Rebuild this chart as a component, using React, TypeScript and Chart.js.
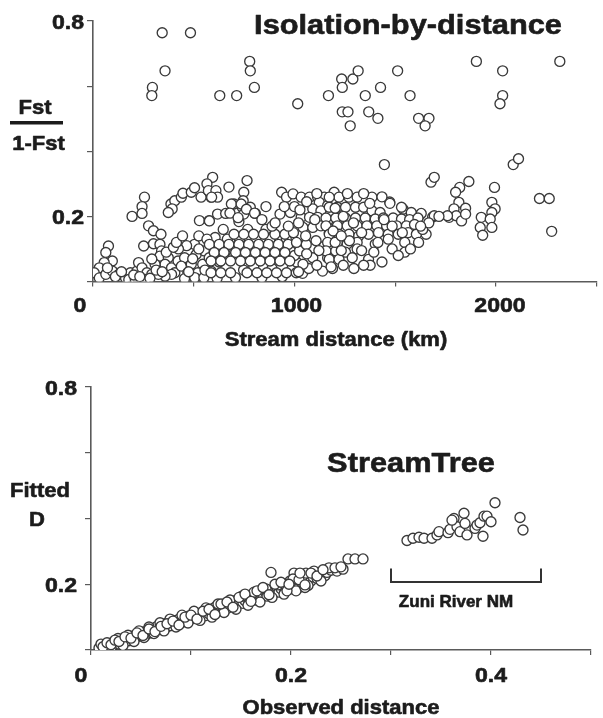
import React, { useEffect, useRef } from "react";
import { Chart, registerables } from "chart.js";

Chart.register(...registerables);

// ---------------- Data: Isolation-by-distance (top panel) ----------------
const ibdDistanceKm = [
  // sparse high values
  340, 479, 354, 292, 289, 623, 706, 770, 773, 793, 1006, 1157, 1222, 1225, 1277, 1303, 1338, 1413, 1497, 1558,
  1225, 1253, 1355, 1400, 1264, 1600, 1651, 1632, 1884, 2013, 2013, 2000, 2294, 1432, 2065, 2091,
  // mid / right scattered
  1661, 1677, 1847, 1802, 1782, 1973, 2194, 2242, 2254,
  1798, 1831, 1774, 1750, 1785, 1811, 1831, 1960, 1976, 1960, 1908, 1952, 1903, 1960, 1915,
  1669, 1603, 1524, 1458,
  // lower-left cloud
  253, 241, 192, 241, 383, 402, 434, 442, 483, 499, 389, 370, 580, 531, 523, 571, 273, 297, 334, 297,
  329, 337, 329, 249, 76, 63, 95, 55, 31, 6, 31, 63, 95, 71, 127, 160, 184, 176, 216, 224,
  241, 265, 208, 257, 289, 370, 354, 386, 402, 418, 450, 434, 483, 499, 507, 547, 539, 571, 580, 515,
  466, 386, 354, 321, 305, 289,
  450, 500, 545, 610, 700, 740, 790, 830, 880, 930, 980, 460, 420, 520, 640, 600, 660, 705, 780, 860,
  930, 975, 1000, 1030, 1060,
  110, 140, 200, 230, 280, 310, 340, 360, 395, 410, 440, 470, 490, 520, 550, 560, 600, 620, 650, 690,
  720, 760, 800, 850, 870, 900, 950, 990,
  // middle cloud
  588, 560, 567, 604, 612, 583, 668, 757, 741, 738, 693, 733, 773, 798, 741, 612, 652, 572, 717,
  927, 951, 983, 1023, 1064, 1104, 1137, 1112, 1153, 1080, 1120, 919, 970, 1023, 1064, 1104, 1032, 1080, 1120, 1153, 1161,
  693, 741, 789, 838, 894, 943,
  572, 620, 668, 717, 765, 814, 862, 911, 959, 1007,
  596, 644, 701, 749, 798, 846, 894, 943,
  580, 628, 676, 725, 773, 822, 870, 919, 967,
  580, 628, 676, 757, 806, 854, 902, 951, 999,
  1015, 1048, 1096, 1137, 1153, 1128, 1080, 1032,
  990, 1010, 1045, 1090, 1000, 985, 960, 940,
  680, 728, 673, 713, 754, 794, 830, 880, 850, 1017, 895,
  // right cloud
  1185, 1209, 1161, 1258, 1298, 1371, 1459, 1516, 1564, 1613, 1677, 1742,
  1161, 1201, 1241, 1290, 1330, 1371, 1411,
  1145, 1193, 1241, 1290, 1338, 1387, 1427, 1475, 1516, 1556, 1597,
  1145, 1201, 1249, 1298, 1346, 1395, 1443, 1492, 1540, 1580, 1637,
  1161, 1209, 1258, 1306, 1354, 1403, 1451, 1500, 1548, 1589,
  1153, 1201, 1249, 1298, 1387, 1451, 1532,
  1145, 1193, 1241, 1298, 1532,
  1161, 1209, 1274, 1354,
  1177, 1282, 1362,
  1010, 1050, 1100, 1110, 1170, 1190, 1220, 1230, 1260, 1320, 1330, 1380, 1400, 1420, 1470, 1500, 1560, 1600, 1620, 1650,
  1700, 1470, 1430, 1610, 1520, 1360, 1420, 1330, 1250, 1100, 1050, 1190, 1230, 1280, 1320, 1180, 1220,
];

const ibdFst = [
  0.764, 0.764, 0.647, 0.596, 0.571, 0.571, 0.571, 0.676, 0.647, 0.596, 0.546, 0.571, 0.622, 0.596, 0.622, 0.647, 0.571, 0.596, 0.647, 0.571,
  0.521, 0.521, 0.521, 0.501, 0.478, 0.501, 0.501, 0.478, 0.676, 0.647, 0.571, 0.546, 0.676, 0.359, 0.359, 0.377,
  0.305, 0.320, 0.307, 0.289, 0.274, 0.289, 0.255, 0.255, 0.154,
  0.243, 0.225, 0.223, 0.197, 0.202, 0.186, 0.207, 0.243, 0.223, 0.212, 0.197, 0.192, 0.166, 0.166, 0.142,
  0.198, 0.202, 0.222, 0.244,
  0.259, 0.230, 0.200, 0.209, 0.238, 0.248, 0.259, 0.271, 0.274, 0.288, 0.223, 0.212, 0.259, 0.259, 0.187, 0.187, 0.171, 0.156, 0.145, 0.116,
  0.114, 0.094, 0.078, 0.109, 0.109, 0.089, 0.063, 0.058, 0.042, 0.027, 0.011, 0.022, 0.032, 0.042, 0.022, 0.011, 0.027, 0.006, 0.032, 0.058,
  0.042, 0.027, 0.006, 0.006, 0.022, 0.073, 0.053, 0.042, 0.027, 0.063, 0.073, 0.047, 0.053, 0.114, 0.083, 0.094, 0.053, 0.073, 0.032, 0.027,
  0.027, 0.022, 0.016, 0.022, 0.053, 0.069,
  0.009, 0.012, 0.012, 0.010, 0.012, 0.035, 0.045, 0.012, 0.040, 0.015, 0.045, 0.110, 0.100, 0.140, 0.160, 0.135, 0.130, 0.100, 0.075, 0.100,
  0.075, 0.100, 0.060, 0.025, 0.040,
  0.015, 0.030, 0.020, 0.015, 0.010, 0.035, 0.030, 0.090, 0.105, 0.120, 0.140, 0.030, 0.070, 0.100, 0.035, 0.130, 0.090, 0.060, 0.100, 0.075,
  0.130, 0.160, 0.130, 0.160, 0.130, 0.100, 0.130, 0.080,
  0.320, 0.300, 0.279, 0.279, 0.259, 0.259, 0.290, 0.310, 0.274, 0.248, 0.238, 0.228, 0.228, 0.209, 0.207, 0.207, 0.209, 0.186, 0.184,
  0.274, 0.259, 0.269, 0.259, 0.259, 0.259, 0.259, 0.243, 0.233, 0.223, 0.217, 0.207, 0.212, 0.197, 0.197, 0.197, 0.166, 0.166, 0.171, 0.186, 0.150,
  0.145, 0.145, 0.145, 0.145, 0.145, 0.145,
  0.114, 0.114, 0.114, 0.114, 0.114, 0.114, 0.114, 0.114, 0.114, 0.114,
  0.089, 0.089, 0.089, 0.089, 0.089, 0.089, 0.089, 0.089,
  0.063, 0.063, 0.063, 0.063, 0.063, 0.063, 0.063, 0.063, 0.063,
  0.027, 0.027, 0.027, 0.027, 0.027, 0.027, 0.027, 0.027, 0.027,
  0.094, 0.114, 0.125, 0.109, 0.073, 0.032, 0.073, 0.053,
  0.230, 0.180, 0.140, 0.190, 0.120, 0.150, 0.170, 0.230,
  0.238, 0.238, 0.210, 0.196, 0.222, 0.210, 0.190, 0.170, 0.230, 0.220, 0.180,
  0.274, 0.259, 0.259, 0.259, 0.259, 0.259, 0.240, 0.228, 0.212, 0.209, 0.202, 0.202,
  0.228, 0.228, 0.228, 0.228, 0.228, 0.217, 0.212,
  0.195, 0.195, 0.195, 0.195, 0.195, 0.192, 0.195, 0.195, 0.192, 0.190, 0.195,
  0.171, 0.171, 0.171, 0.171, 0.171, 0.171, 0.171, 0.171, 0.171, 0.175, 0.145,
  0.145, 0.145, 0.145, 0.140, 0.145, 0.150, 0.145, 0.145, 0.150, 0.145,
  0.120, 0.120, 0.115, 0.120, 0.115, 0.130, 0.120,
  0.094, 0.094, 0.090, 0.100, 0.090,
  0.068, 0.068, 0.073, 0.068,
  0.040, 0.040, 0.050,
  0.030, 0.085, 0.050, 0.095, 0.045, 0.120, 0.095, 0.050, 0.125, 0.095, 0.050, 0.090, 0.120, 0.060, 0.100, 0.080, 0.100, 0.120, 0.160, 0.180,
  0.200, 0.170, 0.190, 0.170, 0.150, 0.240, 0.260, 0.270, 0.270, 0.270, 0.245, 0.225, 0.200, 0.180, 0.150, 0.155, 0.140,
];

const ibdXTicks = [0, 1000, 2000];
const ibdYTicks = [0.2, 0.8];

// ---------------- Data: StreamTree (bottom panel) ----------------
const treeObserved = [
  0.008, 0.012, 0.015, 0.018, 0.022, 0.025, 0.028, 0.030, 0.033, 0.035, 0.038, 0.040, 0.042, 0.045, 0.047, 0.050, 0.052, 0.055, 0.057, 0.060,
  0.062, 0.064, 0.066, 0.068, 0.070, 0.072, 0.074, 0.076, 0.078, 0.080, 0.082, 0.084, 0.086, 0.088, 0.090, 0.092, 0.094, 0.096, 0.098, 0.100,
  0.102, 0.104, 0.106, 0.108, 0.110, 0.112, 0.114, 0.116, 0.118, 0.120, 0.122, 0.124, 0.126, 0.128, 0.130, 0.132, 0.134, 0.136, 0.138, 0.140,
  0.142, 0.144, 0.146, 0.148, 0.150, 0.152, 0.154, 0.156, 0.158, 0.160, 0.162, 0.164, 0.166, 0.168, 0.170, 0.172, 0.174, 0.176, 0.178, 0.180,
  0.180, 0.182, 0.184, 0.186, 0.188, 0.190, 0.192, 0.194, 0.196, 0.198, 0.200, 0.202, 0.204, 0.206, 0.208, 0.210, 0.212, 0.214, 0.216, 0.218,
  0.220, 0.222, 0.224, 0.226, 0.228, 0.232, 0.234, 0.236, 0.240, 0.246, 0.252, 0.257, 0.264, 0.272,
  0.010, 0.020, 0.027, 0.032, 0.037, 0.043, 0.048, 0.053, 0.058, 0.063, 0.069, 0.073, 0.079, 0.085, 0.091, 0.097, 0.103, 0.109, 0.115, 0.121,
  0.127, 0.133, 0.139, 0.145, 0.151, 0.157, 0.163, 0.169, 0.175, 0.181, 0.187, 0.193, 0.199, 0.205, 0.211, 0.217, 0.223, 0.230, 0.238, 0.215,
  0.203, 0.194,
  0.012, 0.016, 0.020, 0.024, 0.028, 0.034, 0.040, 0.046, 0.052, 0.058, 0.064, 0.070, 0.076, 0.082, 0.088, 0.094, 0.100, 0.106, 0.112, 0.118,
  0.124, 0.130, 0.136, 0.142, 0.148, 0.154, 0.160, 0.166, 0.172, 0.178, 0.184, 0.190, 0.196, 0.202, 0.208, 0.214, 0.220, 0.226, 0.232, 0.244,
  0.250, 0.198, 0.209, 0.214,
];

const treeFitted = [
  0.006, 0.014, 0.008, 0.020, 0.012, 0.025, 0.018, 0.030, 0.022, 0.036, 0.028, 0.042, 0.032, 0.038, 0.048, 0.044, 0.055, 0.046, 0.060, 0.052,
  0.066, 0.058, 0.072, 0.062, 0.076, 0.066, 0.080, 0.070, 0.085, 0.074, 0.090, 0.078, 0.084, 0.094, 0.082, 0.100, 0.088, 0.092, 0.104, 0.094,
  0.108, 0.098, 0.112, 0.100, 0.106, 0.116, 0.104, 0.120, 0.110, 0.124, 0.114, 0.130, 0.118, 0.134, 0.122, 0.128, 0.140, 0.126, 0.136, 0.144,
  0.132, 0.150, 0.138, 0.146, 0.156, 0.142, 0.150, 0.162, 0.146, 0.158, 0.168, 0.152, 0.160, 0.172, 0.158, 0.166, 0.178, 0.164, 0.174, 0.236,
  0.182, 0.170, 0.178, 0.190, 0.176, 0.186, 0.196, 0.180, 0.190, 0.204, 0.186, 0.196, 0.212, 0.200, 0.190, 0.208, 0.220, 0.204, 0.214, 0.226,
  0.210, 0.222, 0.232, 0.218, 0.228, 0.236, 0.226, 0.236, 0.243, 0.240, 0.246, 0.277, 0.277, 0.277,
  0.018, 0.006, 0.035, 0.014, 0.045, 0.026, 0.058, 0.038, 0.070, 0.050, 0.083, 0.058, 0.094, 0.070, 0.106, 0.082, 0.118, 0.090, 0.128, 0.100,
  0.140, 0.114, 0.152, 0.124, 0.164, 0.136, 0.176, 0.146, 0.186, 0.160, 0.198, 0.170, 0.210, 0.180, 0.222, 0.196, 0.240, 0.210, 0.250, 0.234,
  0.234, 0.200,
  0.010, 0.022, 0.016, 0.030, 0.026, 0.040, 0.036, 0.052, 0.044, 0.064, 0.056, 0.072, 0.080, 0.088, 0.076, 0.100, 0.106, 0.094, 0.118, 0.124,
  0.108, 0.140, 0.146, 0.130, 0.160, 0.170, 0.148, 0.180, 0.190, 0.168, 0.200, 0.206, 0.180, 0.216, 0.214, 0.190, 0.234, 0.225, 0.244, 0.250,
  0.253, 0.200, 0.234, 0.198,
];

// Zuni River NM group
const zuniObserved = [
  0.316, 0.322, 0.328, 0.333, 0.341, 0.346, 0.348, 0.357, 0.359, 0.363, 0.366, 0.369, 0.373, 0.374, 0.376, 0.384, 0.386, 0.389, 0.392, 0.393,
  0.396, 0.400, 0.404, 0.429, 0.432, 0.361,
];
const zuniFitted = [
  0.333, 0.340, 0.343, 0.340, 0.340, 0.350, 0.360, 0.357, 0.367, 0.400, 0.375, 0.360, 0.416, 0.385, 0.350, 0.370, 0.380, 0.387, 0.346, 0.407,
  0.407, 0.390, 0.448, 0.403, 0.365, 0.395,
];

const treeXTicks = [0, 0.2, 0.4];
const treeYTicks = [0.2, 0.8];
const zuniBracket = [0.3, 0.45]; // observed-distance span
const zuniBracketY = [0.248, 0.207];

// ---------------- Styling ----------------
const FONT = '"Liberation Sans", Arial, Helvetica, sans-serif';
const INK = "#1c1c1c";
const AXIS = "#5a5a5a";
const W = 603;
const TOP_H = 355;
const BOT_H = 718 - TOP_H;

function txt(
  ctx: CanvasRenderingContext2D,
  s: string,
  x: number,
  y: number,
  size: number,
  align: CanvasTextAlign,
  stretch: number
) {
  ctx.save();
  ctx.font = `bold ${size}px ${FONT}`;
  ctx.fillStyle = INK;
  ctx.strokeStyle = INK;
  ctx.lineWidth = 0.6;
  ctx.lineJoin = "round";
  ctx.textAlign = align;
  ctx.textBaseline = "alphabetic";
  ctx.translate(x, y);
  ctx.scale(stretch, 1);
  ctx.fillText(s, 0, 0);
  ctx.strokeText(s, 0, 0);
  ctx.restore();
}

function makeDataset(xs: number[], ys: number[]) {
  return {
    data: xs.map((x, i) => ({ x, y: ys[i] })),
    pointRadius: 5,
    pointBorderWidth: 1.35,
    pointBorderColor: "#3a3a3a",
    pointBackgroundColor: "#ffffff",
    showLine: false,
  };
}

function axisOpts(min: number, max: number, step: number, isX: boolean) {
  return {
    type: "linear" as const,
    min,
    max,
    ticks: { display: false, stepSize: step, includeBounds: false },
    grid: {
      drawOnChartArea: false,
      drawTicks: true,
      tickLength: isX ? 5 : 6,
      color: AXIS,
      lineWidth: 1.2,
    },
    border: { display: true, color: AXIS, width: 1.6 },
    afterFit: (s: any) => {
      if (isX) s.height = 0;
      else s.width = 0;
    },
  };
}

const ibdTextPlugin = {
  id: "ibdText",
  afterDraw(chart: any) {
    const ctx = chart.ctx as CanvasRenderingContext2D;
    const xs = chart.scales.x;
    const ys = chart.scales.y;
    ibdYTicks.forEach((v) => txt(ctx, String(v), 84, ys.getPixelForValue(v) + 7.5, 21, "right", 1.1));
    ibdXTicks.forEach((v) =>
      txt(ctx, String(v), xs.getPixelForValue(v) - (v === 0 ? 13 : 0), 312, 21, "center", 1.1)
    );
    txt(ctx, "Stream distance (km)", 336, 346, 20, "center", 1.1);
    txt(ctx, "Isolation-by-distance", 408, 34, 27, "center", 1.14);
    txt(ctx, "Fst", 35, 114, 21, "center", 1.05);
    ctx.save();
    ctx.fillStyle = INK;
    ctx.fillRect(10, 121, 53, 3.5);
    ctx.restore();
    txt(ctx, "1-Fst", 38.5, 150, 21, "center", 1.05);
  },
};

const treeTextPlugin = {
  id: "treeText",
  afterDraw(chart: any) {
    const ctx = chart.ctx as CanvasRenderingContext2D;
    const xs = chart.scales.x;
    const ys = chart.scales.y;
    treeYTicks.forEach((v) => txt(ctx, String(v), 77, ys.getPixelForValue(v) + 7.5, 21, "right", 1.1));
    treeXTicks.forEach((v) =>
      txt(ctx, String(v), xs.getPixelForValue(v) - (v === 0 ? 10 : 0), 327, 21, "center", 1.1)
    );
    txt(ctx, "Observed distance", 341, 359, 20, "center", 1.1);
    txt(ctx, "StreamTree", 411, 117, 28, "center", 1.1);
    txt(ctx, "Fitted", 40, 142, 21, "center", 1.05);
    txt(ctx, "D", 37, 171, 21, "center", 1.05);
    // bracket for the Zuni River NM group
    const bx1 = xs.getPixelForValue(zuniBracket[0]);
    const bx2 = xs.getPixelForValue(zuniBracket[1]);
    const by1 = ys.getPixelForValue(zuniBracketY[0]);
    const by2 = ys.getPixelForValue(zuniBracketY[1]);
    ctx.save();
    ctx.strokeStyle = "#333";
    ctx.lineWidth = 2;
    ctx.beginPath();
    ctx.moveTo(bx1, by1);
    ctx.lineTo(bx1, by2);
    ctx.lineTo(bx2, by2);
    ctx.lineTo(bx2, by1);
    ctx.stroke();
    ctx.restore();
    txt(ctx, "Zuni River NM", bx1 + 65, 251.7, 17, "center", 1.0);
  },
};

export default function App() {
  const topRef = useRef<HTMLCanvasElement | null>(null);
  const botRef = useRef<HTMLCanvasElement | null>(null);

  useEffect(() => {
    const top = new Chart(topRef.current as HTMLCanvasElement, {
      type: "scatter",
      data: { datasets: [makeDataset(ibdDistanceKm, ibdFst)] as any },
      options: {
        animation: false,
        responsive: false,
        devicePixelRatio: 1,
        layout: { padding: { left: 93, right: 0, top: 21, bottom: TOP_H - 281.5 } },
        plugins: { legend: { display: false }, tooltip: { enabled: false } },
        scales: {
          x: axisOpts(0, 2475, 500, true),
          y: axisOpts(0, 0.8, 0.2, false),
        },
      } as any,
      plugins: [ibdTextPlugin],
    });
    const bot = new Chart(botRef.current as HTMLCanvasElement, {
      type: "scatter",
      data: {
        datasets: [makeDataset(treeObserved, treeFitted), makeDataset(zuniObserved, zuniFitted)] as any,
      },
      options: {
        animation: false,
        responsive: false,
        devicePixelRatio: 1,
        layout: { padding: { left: 91, right: W - 591, top: 387 - TOP_H, bottom: TOP_H + BOT_H - 650 } },
        plugins: { legend: { display: false }, tooltip: { enabled: false } },
        scales: {
          x: axisOpts(0, 0.5, 0.1, true),
          y: axisOpts(0, 0.8, 0.2, false),
        },
      } as any,
      plugins: [treeTextPlugin],
    });
    return () => {
      top.destroy();
      bot.destroy();
    };
  }, []);

  return (
    <div style={{ position: "absolute", left: 0, top: 0, width: W, height: 718, background: "#fff" }}>
      <canvas ref={topRef} width={W} height={TOP_H} style={{ display: "block", width: W, height: TOP_H }} />
      <canvas ref={botRef} width={W} height={BOT_H} style={{ display: "block", width: W, height: BOT_H }} />
    </div>
  );
}
